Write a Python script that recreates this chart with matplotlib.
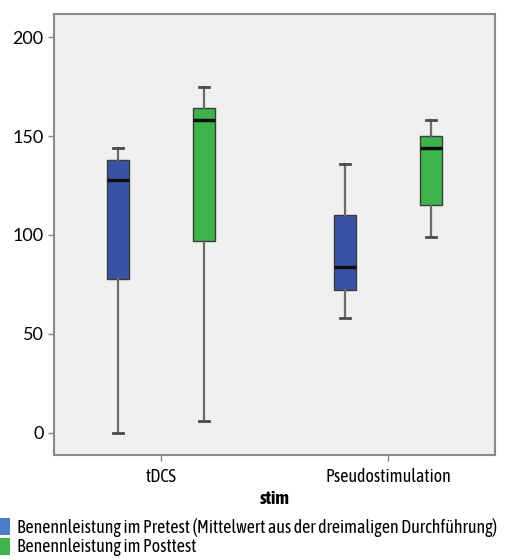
import matplotlib
matplotlib.use("Agg")
import matplotlib.pyplot as plt
from matplotlib.patches import Patch
from matplotlib import font_manager as fm

fonts = fm.fontManager.ttflist
cands = sorted({f.name for f in fonts if ('Narrow' in f.name or 'Condensed' in f.name)})
def has_bold(n):
    return any(f.name == n and (f.weight in ('bold', 700) or (isinstance(f.weight, int) and f.weight >= 600)) for f in fonts)
bold_cands = [n for n in cands if has_bold(n)]
base = bold_cands[0] if bold_cands else (cands[0] if cands else 'Liberation Sans')
plt.rcParams['font.family'] = [base, 'DejaVu Sans']

categories = ["tDCS", "Pseudostimulation"]
series_names = ["Benennleistung im Pretest (Mittelwert aus der dreimaligen Durchführung)",
                "Benennleistung im Posttest"]
# per category: [whislo, q1, med, q3, whishi]
pretest = [[0, 78, 128, 138, 144], [58, 72, 84, 110, 136]]
posttest = [[6, 97, 158, 164, 175], [99, 115, 144, 150, 158]]
yticks = [0, 50, 100, 150, 200]

box_colors = ["#3a52a3", "#3cb449"]
legend_colors = ["#4a7ec6", "#3cb449"]

fig = plt.figure(figsize=(5.09, 5.59), dpi=100)
ax = fig.add_axes([0.106, 0.186, 0.8665, 0.789])
ax.set_facecolor("#f0f0f0")

offset = 0.19
for si, (series, col) in enumerate(zip([pretest, posttest], box_colors)):
    stats = []
    for ci, v in enumerate(series):
        stats.append(dict(whislo=v[0], q1=v[1], med=v[2], q3=v[3], whishi=v[4], fliers=[]))
    pos = [ci + (offset if si == 1 else -offset) for ci in range(len(categories))]
    ax.bxp(stats, positions=pos, widths=0.097, patch_artist=True, showfliers=False,
           capwidths=0.045,
           boxprops=dict(facecolor=col, edgecolor="#3c3c3c", linewidth=1.0),
           medianprops=dict(color="#101010", linewidth=2.5),
           whiskerprops=dict(color="#6a6a6a", linewidth=1.6),
           capprops=dict(color="#4a4a4a", linewidth=2.0))

ax.set_xlim(-0.471, 1.471)
ax.set_ylim(-11.2, 211.7)
ax.set_xticks(range(len(categories)))
ax.set_xticklabels(categories, fontsize=13)
ax.set_yticks(yticks)
ax.set_yticklabels([str(t) for t in yticks], fontsize=13, family=['Lato', 'DejaVu Sans'])
ax.tick_params(axis='both', direction='out', length=4, color="#888888", width=1)
ax.tick_params(axis='x', pad=5)
for s in ax.spines.values():
    s.set_color("#8a8a8a")
    s.set_linewidth(1.5)
ax.set_xlabel("stim", fontsize=13.5, fontweight='bold', labelpad=3)

# fit legend font so the long label spans ~480 px
fig.canvas.draw()
r = fig.canvas.get_renderer()
fs = 12.0
t = fig.text(0, 0, series_names[0], fontsize=fs)
w = t.get_window_extent(r).width
t.remove()
fs = min(14.0, fs * 480.0 / w)

handles = [Patch(facecolor=c, edgecolor='none') for c in legend_colors]
fig.legend(handles, series_names, loc='lower left', bbox_to_anchor=(-0.02, -0.008),
           frameon=False, fontsize=fs, handlelength=0.75, handleheight=1.1,
           handletextpad=0.35, labelspacing=0.05, borderaxespad=0.0)

fig.savefig("out.png", dpi=100)
